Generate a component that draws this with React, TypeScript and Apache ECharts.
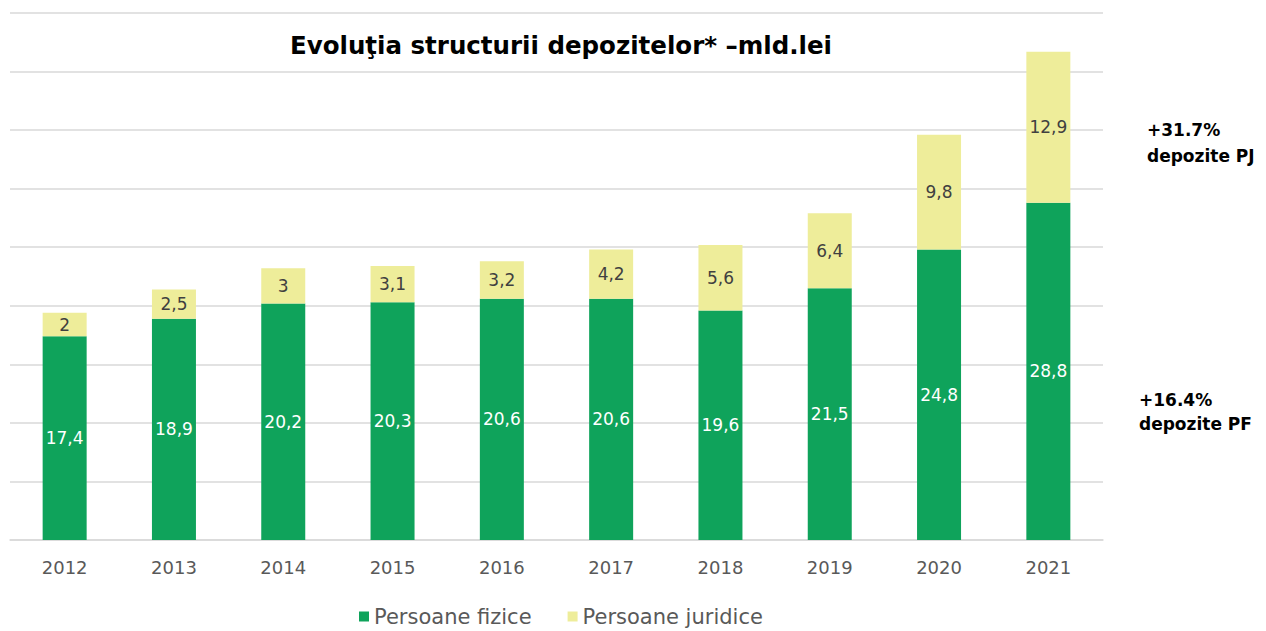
import React, { useEffect, useRef } from "react";
import * as echarts from "echarts";

const years = ["2012", "2013", "2014", "2015", "2016", "2017", "2018", "2019", "2020", "2021"];
const persoaneFizice = [17.4, 18.9, 20.2, 20.3, 20.6, 20.6, 19.6, 21.5, 24.8, 28.8];
const persoaneJuridice = [2, 2.5, 3, 3.1, 3.2, 4.2, 5.6, 6.4, 9.8, 12.9];
const titleText = "Evoluţia structurii depozitelor* –mld.lei";
const noteTop = ["+31.7%", "depozite PJ"];
const noteBottom = ["+16.4%", "depozite PF"];

const FONT = "'DejaVu Sans', sans-serif";
const fmt = (v: number) => String(v).replace(".", ",");

export default function App() {
  const ref = useRef<HTMLDivElement>(null);
  useEffect(() => {
    if (!ref.current) return;
    const chart = echarts.init(ref.current, undefined, { renderer: "svg" });
    chart.setOption({
      animation: false,
      textStyle: { fontFamily: FONT },
      title: {
        text: titleText,
        left: 556,
        textAlign: "center",
        top: 28,
        textStyle: { fontFamily: FONT, fontSize: 24.5, fontWeight: "bold", color: "#000" },
      },
      grid: { left: 10, right: 163, top: 13, bottom: 91, containLabel: false },
      legend: {
        bottom: -1,
        left: 354,
        itemWidth: 10,
        itemHeight: 10,
        itemGap: 36,
        icon: "rect",
        textStyle: { fontFamily: FONT, fontSize: 21, color: "#595959" },
        data: ["Persoane fizice", "Persoane juridice"],
      },
      xAxis: {
        type: "category",
        data: years,
        axisLine: { lineStyle: { color: "#d9d9d9", width: 1.5 } },
        axisTick: { show: false },
        axisLabel: { fontFamily: FONT, fontSize: 18, color: "#595959", margin: 18 },
      },
      yAxis: {
        type: "value",
        min: 0,
        max: 45,
        interval: 5,
        axisLabel: { show: false },
        axisLine: { show: false },
        axisTick: { show: false },
        splitLine: { lineStyle: { color: "#d9d9d9", width: 1.5 } },
      },
      series: [
        {
          name: "Persoane fizice",
          type: "bar",
          stack: "total",
          barWidth: 44,
          data: persoaneFizice,
          itemStyle: { color: "#0fa35b" },
          label: {
            show: true,
            position: "inside",
            color: "#ffffff",
            fontFamily: FONT,
            fontSize: 17,
            formatter: (p: any) => fmt(p.value),
          },
        },
        {
          name: "Persoane juridice",
          type: "bar",
          stack: "total",
          barWidth: 44,
          data: persoaneJuridice,
          itemStyle: { color: "#eeed9a" },
          label: {
            show: true,
            position: "inside",
            color: "#404040",
            fontFamily: FONT,
            fontSize: 17,
            formatter: (p: any) => fmt(p.value),
          },
        },
      ],
      graphic: [
        {
          type: "text",
          left: 1147,
          top: 117,
          style: {
            text: noteTop.join("\n"),
            fontFamily: FONT,
            fontSize: 17,
            fontWeight: "bold",
            fill: "#000",
            lineHeight: 26,
          },
        },
        {
          type: "text",
          left: 1139,
          top: 388,
          style: {
            text: noteBottom.join("\n"),
            fontFamily: FONT,
            fontSize: 17,
            fontWeight: "bold",
            fill: "#000",
            lineHeight: 24,
          },
        },
      ],
    });
    return () => chart.dispose();
  }, []);
  return (
    <div
      ref={ref}
      style={{ position: "absolute", left: 0, top: 0, width: 1266, height: 631, background: "#fff" }}
    />
  );
}
